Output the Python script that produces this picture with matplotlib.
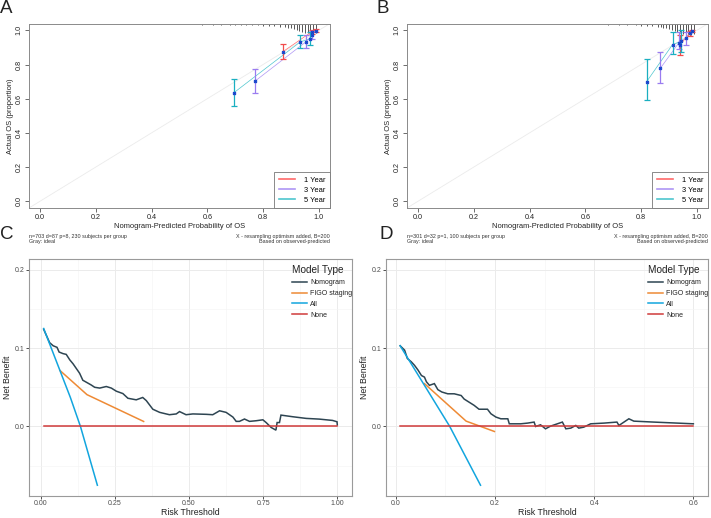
import matplotlib
matplotlib.use("Agg")
import matplotlib.pyplot as plt
from matplotlib.lines import Line2D
import numpy as np

plt.rcParams['font.family'] = ['Liberation Sans', 'DejaVu Sans']

# ---------------- Calibration data (panel A) ----------------
A_1y_pred = [0.871, 0.975, 0.990]
A_1y_obs = [0.875, 0.992, 0.998]
A_1y_lo = [0.830, 0.980, 0.988]
A_1y_hi = [0.918, 1.000, 1.005]
A_3y_pred = [0.772, 0.953, 0.977]
A_3y_obs = [0.704, 0.932, 0.972]
A_3y_lo = [0.636, 0.897, 0.950]
A_3y_hi = [0.772, 0.971, 0.995]
A_5y_pred = [0.696, 0.933, 0.970]
A_5y_obs = [0.636, 0.932, 0.951]
A_5y_lo = [0.557, 0.897, 0.912]
A_5y_hi = [0.715, 0.971, 0.992]

# ---------------- Calibration data (panel B) ----------------
B_1y_pred = [0.940, 0.974, 0.984]
B_1y_obs = [0.914, 0.984, 0.997]
B_1y_lo = [0.858, 0.968, 0.990]
B_1y_hi = [0.970, 0.998, 1.003]
B_3y_pred = [0.869, 0.936, 0.961]
B_3y_obs = [0.778, 0.928, 0.957]
B_3y_lo = [0.692, 0.890, 0.914]
B_3y_hi = [0.875, 0.990, 0.990]
B_5y_pred = [0.820, 0.913, 0.944]
B_5y_obs = [0.700, 0.917, 0.935]
B_5y_lo = [0.591, 0.860, 0.875]
B_5y_hi = [0.830, 0.990, 1.000]

# spike histograms of predicted probabilities (top of panels A/B)
spikeA_x = [0.30, 0.35, 0.40, 0.45, 0.50, 0.55, 0.58, 0.62, 0.65, 0.68, 0.70, 0.72,
            0.74, 0.76, 0.78, 0.80, 0.82, 0.84, 0.86, 0.88, 0.89, 0.90, 0.91, 0.92,
            0.93, 0.94, 0.95, 0.96, 0.97, 0.98, 0.99]
spikeA_h = [0.004, 0.004, 0.005, 0.004, 0.005, 0.005, 0.006, 0.006, 0.008, 0.008, 0.008, 0.009,
            0.010, 0.011, 0.011, 0.012, 0.014, 0.016, 0.018, 0.021, 0.025, 0.028, 0.032, 0.036,
            0.042, 0.047, 0.053, 0.058, 0.062, 0.066, 0.056]
spikeB_x = [0.45, 0.52, 0.58, 0.63, 0.68, 0.72, 0.75, 0.78, 0.80, 0.82, 0.84, 0.86,
            0.87, 0.88, 0.89, 0.90, 0.91, 0.92, 0.93, 0.94, 0.95, 0.96, 0.97, 0.98, 0.99]
spikeB_h = [0.004, 0.004, 0.005, 0.005, 0.007, 0.008, 0.008, 0.011, 0.012, 0.014, 0.017, 0.019,
            0.022, 0.025, 0.028, 0.033, 0.039, 0.045, 0.050, 0.056, 0.061, 0.066, 0.070, 0.068, 0.062]

# ---------------- Decision curve data (panel C) ----------------
C_nomo_t = [0.010, 0.030, 0.042, 0.055, 0.062, 0.075, 0.086, 0.098, 0.109, 0.120, 0.131, 0.142,
            0.156, 0.170, 0.182, 0.199, 0.221, 0.238, 0.255, 0.277, 0.294, 0.322, 0.344, 0.356,
            0.378, 0.401, 0.434, 0.457, 0.468, 0.490, 0.513, 0.558, 0.580, 0.603, 0.625, 0.648,
            0.659, 0.670, 0.687, 0.704, 0.726, 0.749, 0.760, 0.777, 0.793, 0.797, 0.805, 0.810,
            0.850, 0.895, 0.939, 0.984, 0.999, 1.000]
C_nomo_nb = [0.124, 0.107, 0.103, 0.101, 0.095, 0.093, 0.092, 0.085, 0.080, 0.074, 0.068, 0.059,
             0.056, 0.053, 0.050, 0.049, 0.051, 0.049, 0.045, 0.042, 0.036, 0.034, 0.037, 0.033,
             0.022, 0.018, 0.015, 0.016, 0.019, 0.015, 0.016, 0.0155, 0.015, 0.020, 0.018, 0.012,
             0.0065, 0.0065, 0.0095, 0.0065, 0.0073, 0.0085, 0.005, -0.0013, -0.0047, 0.005, 0.005, 0.0145,
             0.0124, 0.0103, 0.0094, 0.0077, 0.006, 0.002]
C_figo_t = [0.065, 0.156, 0.347]
C_figo_nb = [0.0714, 0.0406, 0.0064]
C_all_t = [0.010, 0.100, 0.134, 0.191]
C_all_nb = [0.125, 0.037, 0.000, -0.075]
C_none_t = [0.010, 1.000]
C_none_nb = [0.0, 0.0]

# ---------------- Decision curve data (panel D) ----------------
D_nomo_t = [0.009, 0.018, 0.0235, 0.0315, 0.038, 0.045, 0.052, 0.058, 0.062, 0.068, 0.078, 0.085,
            0.093, 0.105, 0.118, 0.132, 0.138, 0.148, 0.158, 0.168, 0.185, 0.192, 0.202, 0.212,
            0.226, 0.229, 0.252, 0.266, 0.279, 0.282, 0.292, 0.302, 0.312, 0.336, 0.343, 0.353,
            0.363, 0.369, 0.379, 0.393, 0.420, 0.446, 0.450, 0.470, 0.480, 0.520, 0.600]
D_nomo_nb = [0.103, 0.0974, 0.0868, 0.0825, 0.078, 0.072, 0.065, 0.063, 0.057, 0.0525, 0.0547, 0.047,
             0.044, 0.0417, 0.0417, 0.0395, 0.035, 0.031, 0.027, 0.022, 0.022, 0.0162, 0.012, 0.0098,
             0.0098, 0.0034, 0.0034, 0.0043, 0.0056, 0.0, 0.0021, -0.003, 0.0004, 0.0056, -0.003, -0.0021,
             0.0013, -0.0021, -0.0009, 0.0034, 0.0043, 0.0056, 0.0013, 0.0098, 0.0068, 0.0056, 0.0034]
D_figo_t = [0.058, 0.142, 0.199]
D_figo_nb = [0.0547, 0.0068, -0.0064]
D_all_t = [0.009, 0.109, 0.171]
D_all_nb = [0.103, 0.000, -0.075]
D_none_t = [0.009, 0.600]
D_none_nb = [0.0, 0.0]

cal_labels = ["1 Year", "3 Year", "5 Year"]
dca_labels = ["Nomogram", "FIGO staging", "All", "None"]

C_ann = ("n=703 d=87 p=8, 230 subjects per group", "Gray: ideal")
D_ann = ("n=301 d=32 p=1, 100 subjects per group", "Gray: ideal")
ann_right = ("X - resampling optimism added, B=200", "Based on observed-predicted")

# ---------------- Styles ----------------
col_line = ["#FF6A6A", "#AE96F5", "#4EC6CE"]
col_bar = ["#F24B4B", "#9A7CF0", "#1AAFC0"]
col_pt = "#2255DD"
dca_cols = ["#2E4552", "#EE8A35", "#12A5DE", "#D03A3A"]

fig = plt.figure(figsize=(7.11, 5.18), dpi=100)
W, H = 711.0, 518.0


def fig_axes(x0, y0, x1, y1):
    return fig.add_axes([x0 / W, 1 - y1 / H, (x1 - x0) / W, (y1 - y0) / H])


def cal_panel(ax, groups, spx, sph, ann_left):
    ax.set_xlim(-0.04, 1.04)
    ax.set_ylim(-0.04, 1.04)
    ax.plot([-0.04, 1.04], [-0.04, 1.04], color="#ebebeb", lw=0.6, zorder=1)
    ax.vlines(spx, 1.04 - np.array(sph), 1.04, color="#555555", lw=0.7, zorder=2)
    handles = []
    for i, (p, o, lo, hi) in enumerate(groups):
        ax.plot(p, o, color=col_line[i], lw=0.5, zorder=3)
        ax.errorbar(p, o, yerr=[np.array(o) - np.array(lo), np.array(hi) - np.array(o)],
                    fmt='none', ecolor=col_bar[i], elinewidth=0.9, capsize=2.0, capthick=0.9, zorder=4)
        ax.plot(p, o, linestyle='none', marker='s', ms=1.6, color=col_pt, zorder=5)
        ax.plot(p, o, linestyle='none', marker='x', ms=2.0, mew=0.5, color="#1a3fbf", zorder=6)
        handles.append(Line2D([0], [0], color=col_line[i], lw=1.2))
    ax.set_xticks([0, 0.2, 0.4, 0.6, 0.8, 1.0])
    ax.set_yticks([0, 0.2, 0.4, 0.6, 0.8, 1.0])
    ax.set_xticklabels(["0.0", "0.2", "0.4", "0.6", "0.8", "1.0"])
    ax.set_yticklabels(["0.0", "0.2", "0.4", "0.6", "0.8", "1.0"], rotation=90, va='center')
    ax.tick_params(direction='out', length=3, width=0.6, color="#555555", labelsize=5.2,
                   labelcolor="#222222", pad=1.5)
    for s in ax.spines.values():
        s.set_color("#8a8a8a")
        s.set_linewidth(0.7)
    ax.set_xlabel("Nomogram-Predicted Probability of OS", fontsize=5.4, labelpad=1.5, color="#222222")
    ax.set_ylabel("Actual OS (proportion)", fontsize=5.4, labelpad=1.5, color="#222222")
    leg = ax.legend(handles, cal_labels, loc='lower right', borderaxespad=0, fontsize=5.4,
                    fancybox=False, handlelength=2.2, handletextpad=1.2, borderpad=0.6,
                    labelspacing=0.35, framealpha=1)
    leg.get_frame().set_edgecolor("#777777")
    leg.get_frame().set_linewidth(0.6)
    ax.text(0.0, -0.155, ann_left[0], transform=ax.transAxes, fontsize=3.9, ha='left', va='center', color="#333333")
    ax.text(0.0, -0.183, ann_left[1], transform=ax.transAxes, fontsize=3.9, ha='left', va='center', color="#333333")
    ax.text(1.0, -0.155, ann_right[0], transform=ax.transAxes, fontsize=3.9, ha='right', va='center', color="#333333")
    ax.text(1.0, -0.183, ann_right[1], transform=ax.transAxes, fontsize=3.9, ha='right', va='center', color="#333333")


def dca_panel(ax, series, xmax, xticks, xticklabels, xminor):
    xr = xmax - 0.01
    ax.set_xlim(0.01 - 0.05 * xr, xmax + 0.05 * xr)
    ax.set_ylim(-0.075 - 0.01375, 0.2 + 0.01375)
    ax.set_xticks(xticks)
    ax.set_xticklabels(xticklabels)
    ax.set_xticks(xminor, minor=True)
    ax.set_yticks([0.0, 0.1, 0.2])
    ax.set_yticklabels(["0.0", "0.1", "0.2"])
    ax.set_yticks([-0.05, 0.05, 0.15], minor=True)
    ax.grid(which='major', color="#ebebeb", lw=0.7)
    ax.grid(which='minor', color="#f4f4f4", lw=0.45)
    ax.set_axisbelow(True)
    ax.tick_params(which='major', direction='out', length=2.0, width=0.6, color="#333333",
                   labelsize=5.0, labelcolor="#4d4d4d", pad=1.2)
    ax.tick_params(which='minor', length=0)
    for s in ax.spines.values():
        s.set_color("#9a9a9a")
        s.set_linewidth(0.8)
    handles = []
    for (t, nb), c in zip(series, dca_cols):
        ax.plot(t, nb, color=c, lw=1.1, solid_joinstyle='miter')
        handles.append(Line2D([0], [0], color=c, lw=1.1))
    ax.set_xlabel("Risk Threshold", fontsize=6.3, labelpad=0.5, color="#222222")
    ax.set_ylabel("Net Benefit", fontsize=6.3, labelpad=2, color="#222222")
    leg = ax.legend(handles, dca_labels, title="Model Type", loc='upper left',
                    bbox_to_anchor=(0.805, 0.985), frameon=False, fontsize=5.0,
                    title_fontsize=7.2, handlelength=2.2, handletextpad=0.45,
                    labelspacing=0.55, alignment='left', borderaxespad=0)
    leg.get_title().set_color("#222222")
    for tx in leg.get_texts():
        tx.set_color("#222222")


axA = fig_axes(29, 23.5, 330, 208)
cal_panel(axA, [(A_1y_pred, A_1y_obs, A_1y_lo, A_1y_hi),
                (A_3y_pred, A_3y_obs, A_3y_lo, A_3y_hi),
                (A_5y_pred, A_5y_obs, A_5y_lo, A_5y_hi)], spikeA_x, spikeA_h, C_ann)
axB = fig_axes(407, 23.5, 708, 208)
cal_panel(axB, [(B_1y_pred, B_1y_obs, B_1y_lo, B_1y_hi),
                (B_3y_pred, B_3y_obs, B_3y_lo, B_3y_hi),
                (B_5y_pred, B_5y_obs, B_5y_lo, B_5y_hi)], spikeB_x, spikeB_h, D_ann)

axC = fig_axes(29, 259, 352, 496)
dca_panel(axC, [(C_nomo_t, C_nomo_nb), (C_figo_t, C_figo_nb), (C_all_t, C_all_nb), (C_none_t, C_none_nb)],
          1.0, [0, 0.25, 0.5, 0.75, 1.0], ["0.00", "0.25", "0.50", "0.75", "1.00"],
          [0.125, 0.375, 0.625, 0.875])
axD = fig_axes(386, 259, 708, 496)
dca_panel(axD, [(D_nomo_t, D_nomo_nb), (D_figo_t, D_figo_nb), (D_all_t, D_all_nb), (D_none_t, D_none_nb)],
          0.6, [0, 0.2, 0.4, 0.6], ["0.0", "0.2", "0.4", "0.6"], [0.1, 0.3, 0.5])

for lbl, x, y in [("A", 0, 0), ("B", 377, 0), ("C", 0, 226), ("D", 380, 226)]:
    fig.text(x / W, 1 - y / H, lbl, fontsize=13.5, ha='left', va='top', color="#222222")

fig.savefig("out.png", dpi=100)
